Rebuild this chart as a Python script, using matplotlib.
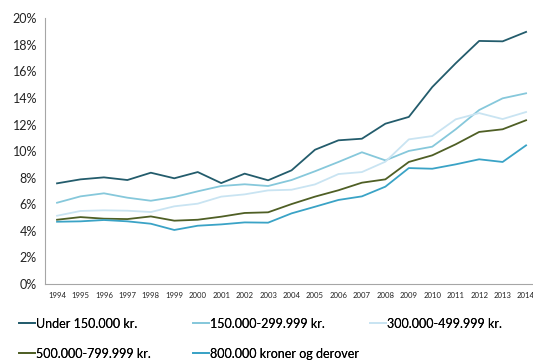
import matplotlib.pyplot as plt
import numpy as np

years = list(range(1994, 2015))

under_150 = [7.58, 7.88, 8.03, 7.83, 8.38, 7.96, 8.43, 7.60, 8.31, 7.81, 8.56,
             10.11, 10.82, 10.94, 12.07, 12.58, 14.83, 16.62, 18.30, 18.27, 18.98]
k150_299 = [6.12, 6.60, 6.83, 6.50, 6.27, 6.55, 6.98, 7.38, 7.51, 7.38, 7.83,
            8.49, 9.19, 9.92, 9.31, 10.02, 10.34, 11.65, 13.10, 13.98, 14.36]
k300_499 = [5.14, 5.50, 5.55, 5.52, 5.42, 5.85, 6.05, 6.58, 6.75, 7.05, 7.10,
            7.50, 8.28, 8.43, 9.21, 10.89, 11.14, 12.40, 12.87, 12.42, 12.95]
k500_799 = [4.84, 5.04, 4.92, 4.89, 5.09, 4.77, 4.84, 5.07, 5.35, 5.40, 6.02,
            6.58, 7.06, 7.63, 7.88, 9.19, 9.69, 10.52, 11.45, 11.65, 12.33]
k800_up = [4.69, 4.72, 4.82, 4.72, 4.54, 4.07, 4.39, 4.49, 4.64, 4.62, 5.32,
           5.82, 6.33, 6.60, 7.33, 8.73, 8.68, 9.01, 9.39, 9.19, 10.44]

labels = ['Under 150.000 kr.', '150.000-299.999 kr.', '300.000-499.999 kr.',
          '500.000-799.999 kr.', '800.000 kroner og derover']
series = [under_150, k150_299, k300_499, k500_799, k800_up]
colors = ['#235c6c', '#86c8db', '#c9e4f2', '#4f5f25', '#3aa3c6']

plt.rcParams['font.family'] = ['Lato', 'DejaVu Sans']

fig = plt.figure(figsize=(5.33, 3.6), dpi=100)
ax = fig.add_axes([0.085, 0.211, 0.924, 0.738])

x = np.arange(len(years))
lines = []
for vals, col, lab in zip(series, colors, labels):
    ln, = ax.plot(x, np.array(vals) / 100, color=col, lw=1.3, label=lab)
    lines.append(ln)

ax.set_xlim(-0.5, len(years) - 0.5)
ax.set_ylim(0, 0.20)
ax.set_yticks(np.arange(0, 0.201, 0.02))
ax.set_yticklabels([f'{int(round(v * 100))}%' for v in np.arange(0, 0.201, 0.02)], fontsize=9, color='#222222')
ax.set_xticks(x)
ax.set_xticklabels([str(y) for y in years], fontsize=5.6, color='#222222')
ax.tick_params(axis='both', length=0)
ax.tick_params(axis='x', pad=6)
ax.tick_params(axis='y', pad=6)
for s in ['top', 'right']:
    ax.spines[s].set_visible(False)
for s in ['left', 'bottom']:
    ax.spines[s].set_color('#a6a6a6')
    ax.spines[s].set_linewidth(0.8)

# legend: three columns placed by hand
cols = [[0, 3], [1, 4], [2]]
xpos = [0.035, 0.362, 0.694]
for xp, idx in zip(xpos, cols):
    leg = fig.legend([lines[i] for i in idx], [labels[i] for i in idx],
                     loc='upper left', bbox_to_anchor=(xp, 0.118), frameon=False,
                     fontsize=9, handlelength=1.3, handletextpad=0.1,
                     labelspacing=1.45, borderaxespad=0, borderpad=0)
    fig.add_artist(leg)

fig.savefig('out.png', dpi=100)
